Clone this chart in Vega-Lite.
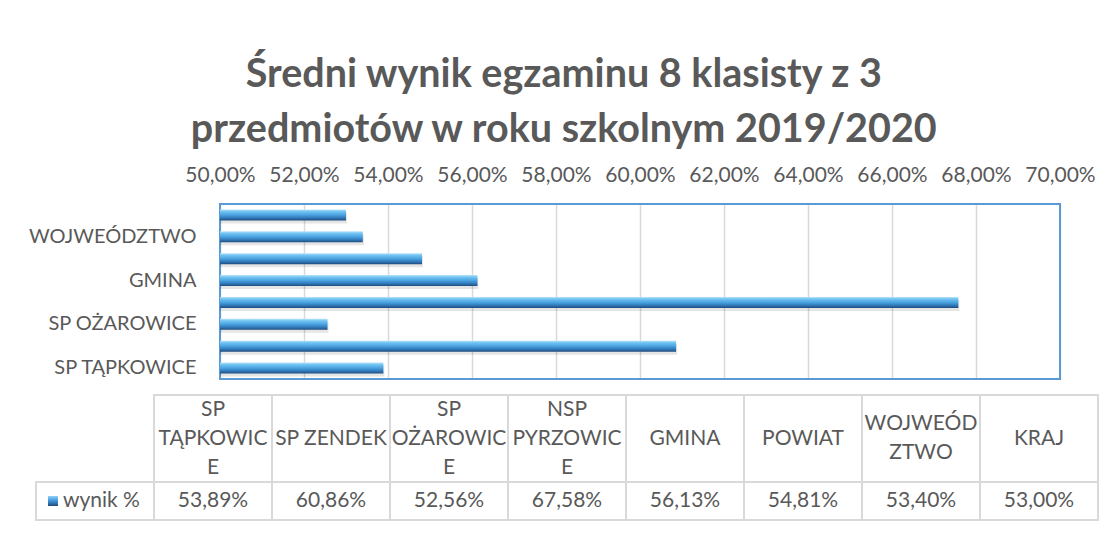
{
  "$schema": "https://vega.github.io/schema/vega-lite/v6.json",
  "background": "white",
  "padding": {"left": 28, "top": 54, "right": 5, "bottom": 5},
  "config": {
    "font": "Lato",
    "view": {"stroke": null},
    "locale": {"number": {"decimal": ",", "thousands": " ", "grouping": [3], "currency": ["", " zł"]}}
  },
  "title": {
    "text": ["Średni wynik egzaminu 8 klasisty z 3", "przedmiotów w roku szkolnym 2019/2020"],
    "font": "Lato",
    "fontSize": 39.5,
    "fontWeight": "bold",
    "color": "#595959",
    "anchor": "middle",
    "lineHeight": 55,
    "offset": 14
  },
  "datasets": {
    "wyniki": [
      {"nazwa": "SP TĄPKOWICE", "naglowek": "SP\nTĄPKOWIC\nE", "wynik": 0.5389},
      {"nazwa": "SP ZENDEK", "naglowek": "SP ZENDEK", "wynik": 0.6086},
      {"nazwa": "SP OŻAROWICE", "naglowek": "SP\nOŻAROWIC\nE", "wynik": 0.5256},
      {"nazwa": "NSP PYRZOWICE", "naglowek": "NSP\nPYRZOWIC\nE", "wynik": 0.6758},
      {"nazwa": "GMINA", "naglowek": "GMINA", "wynik": 0.5613},
      {"nazwa": "POWIAT", "naglowek": "POWIAT", "wynik": 0.5481},
      {"nazwa": "WOJWEÓDZTWO", "naglowek": "WOJWEÓD\nZTWO", "wynik": 0.534},
      {"nazwa": "KRAJ", "naglowek": "KRAJ", "wynik": 0.53}
    ]
  },
  "data": {"name": "wyniki"},
  "bounds": "flush",
  "spacing": 16,
  "vconcat": [
    {
      "width": 1062,
      "height": 175,
      "layer": [
        {
          "data": {"values": [{}]},
          "mark": {"type": "rect", "fill": "transparent", "stroke": "#5b9bd5", "strokeWidth": 2},
          "encoding": {
            "x": {
              "datum": 0.5,
              "type": "quantitative",
              "scale": {"domain": [0.45619, 0.709048], "nice": false, "zero": false},
              "axis": {
                "orient": "top",
                "title": null,
                "values": [0.5, 0.52, 0.54, 0.56, 0.58, 0.6, 0.62, 0.64, 0.66, 0.68, 0.7],
                "format": ".2%",
                "grid": true,
                "gridColor": "#d9d9d9",
                "gridWidth": 1.5,
                "domain": false,
                "ticks": false,
                "labelPadding": 19,
                "labelFontSize": 21,
                "labelColor": "#595959",
                "labelFlush": false,
                "labelOverlap": false
              }
            },
            "x2": {"datum": 0.7}
          }
        },
        {
          "mark": {"type": "bar", "color": "#000000", "opacity": 0.1, "yOffset": 3, "xOffset": 1},
          "encoding": {
            "y": {
              "field": "nazwa",
              "type": "nominal",
              "sort": ["KRAJ", "WOJWEÓDZTWO", "POWIAT", "GMINA", "NSP PYRZOWICE", "SP OŻAROWICE", "SP ZENDEK", "SP TĄPKOWICE"],
              "scale": {"paddingInner": 0.5, "paddingOuter": 0.25}
            },
            "x": {"field": "wynik", "type": "quantitative"},
            "x2": {"datum": 0.5}
          }
        },
        {
          "mark": {
            "type": "bar",
            "color": {
              "gradient": "linear",
              "x1": 0, "y1": 0, "x2": 0, "y2": 1,
              "stops": [
                {"offset": 0, "color": "#b9e4fb"},
                {"offset": 0.18, "color": "#72c4f2"},
                {"offset": 0.5, "color": "#4aa2e0"},
                {"offset": 0.8, "color": "#2f74b4"},
                {"offset": 1, "color": "#1d4c7c"}
              ]
            }
          },
          "encoding": {
            "y": {
              "field": "nazwa",
              "type": "nominal",
              "sort": ["KRAJ", "WOJWEÓDZTWO", "POWIAT", "GMINA", "NSP PYRZOWICE", "SP OŻAROWICE", "SP ZENDEK", "SP TĄPKOWICE"],
              "scale": {"paddingInner": 0.5, "paddingOuter": 0.25},
              "axis": {
                "title": null,
                "values": ["SP TĄPKOWICE", "SP OŻAROWICE", "GMINA", "WOJWEÓDZTWO"],
                "domain": false,
                "ticks": false,
                "labelFontSize": 20,
                "labelColor": "#595959",
                "labelPadding": 2,
                "offset": -162
              }
            },
            "x": {"field": "wynik", "type": "quantitative"},
            "x2": {"datum": 0.5}
          }
        }
      ]
    },
    {
      "bounds": "flush",
      "spacing": 0,
      "vconcat": [
        {
          "width": 1062,
          "height": 87,
          "layer": [
            {
              "mark": {"type": "rect", "fill": "white", "stroke": "#d9d9d9", "strokeWidth": 2},
              "encoding": {
                "x": {
                  "field": "nazwa",
                  "type": "nominal",
                  "scale": {
                    "domain": [" ", "SP TĄPKOWICE", "SP ZENDEK", "SP OŻAROWICE", "NSP PYRZOWICE", "GMINA", "POWIAT", "WOJWEÓDZTWO", "KRAJ"],
                    "paddingInner": 0,
                    "paddingOuter": 0
                  },
                  "axis": null
                }
              }
            },
            {
              "transform": [{"filter": "length(split(datum.naglowek, '\\n')) == 1"}],
              "mark": {"type": "text", "fontSize": 21, "lineBreak": "\n", "lineHeight": 29, "color": "#595959", "baseline": "middle"},
              "encoding": {
                "x": {"field": "nazwa", "type": "nominal"},
                "text": {"field": "naglowek"}
              }
            },
            {
              "transform": [{"filter": "length(split(datum.naglowek, '\\n')) == 2"}],
              "mark": {"type": "text", "fontSize": 21, "lineBreak": "\n", "lineHeight": 29, "color": "#595959", "baseline": "middle", "dy": -14.5},
              "encoding": {
                "x": {"field": "nazwa", "type": "nominal"},
                "text": {"field": "naglowek"}
              }
            },
            {
              "transform": [{"filter": "length(split(datum.naglowek, '\\n')) == 3"}],
              "mark": {"type": "text", "fontSize": 21, "lineBreak": "\n", "lineHeight": 29, "color": "#595959", "baseline": "middle", "dy": -29},
              "encoding": {
                "x": {"field": "nazwa", "type": "nominal"},
                "text": {"field": "naglowek"}
              }
            }
          ]
        },
        {
          "width": 1062,
          "height": 38,
          "layer": [
            {
              "mark": {"type": "rect", "fill": "white", "stroke": "#d9d9d9", "strokeWidth": 2},
              "encoding": {
                "x": {
                  "field": "nazwa",
                  "type": "nominal",
                  "scale": {
                    "domain": [" ", "SP TĄPKOWICE", "SP ZENDEK", "SP OŻAROWICE", "NSP PYRZOWICE", "GMINA", "POWIAT", "WOJWEÓDZTWO", "KRAJ"],
                    "paddingInner": 0,
                    "paddingOuter": 0
                  },
                  "axis": null
                }
              }
            },
            {
              "data": {"values": [{}]},
              "mark": {"type": "rect", "fill": "white", "stroke": "#d9d9d9", "strokeWidth": 2},
              "encoding": {"x": {"datum": " ", "type": "nominal"}}
            },
            {
              "mark": {"type": "text", "fontSize": 21, "color": "#595959", "baseline": "middle"},
              "encoding": {
                "x": {"field": "nazwa", "type": "nominal"},
                "text": {"field": "wynik", "type": "quantitative", "format": ".2%"}
              }
            },
            {
              "data": {"values": [{}]},
              "mark": {"type": "text", "fontSize": 21, "color": "#595959", "baseline": "middle", "align": "left", "dx": -32},
              "encoding": {"x": {"datum": " ", "type": "nominal"}, "text": {"value": "wynik %"}}
            },
            {
              "data": {"values": [{}]},
              "mark": {
                "type": "square",
                "size": 100,
                "xOffset": -42,
                "opacity": 1,
                "fill": {
                  "gradient": "linear",
                  "x1": 0, "y1": 0, "x2": 0, "y2": 1,
                  "stops": [
                    {"offset": 0, "color": "#8fd3f8"},
                    {"offset": 0.5, "color": "#3f93d6"},
                    {"offset": 1, "color": "#1d4c7c"}
                  ]
                },
                "strokeWidth": 0
              },
              "encoding": {"x": {"datum": " ", "type": "nominal"}}
            }
          ]
        }
      ]
    }
  ]
}
